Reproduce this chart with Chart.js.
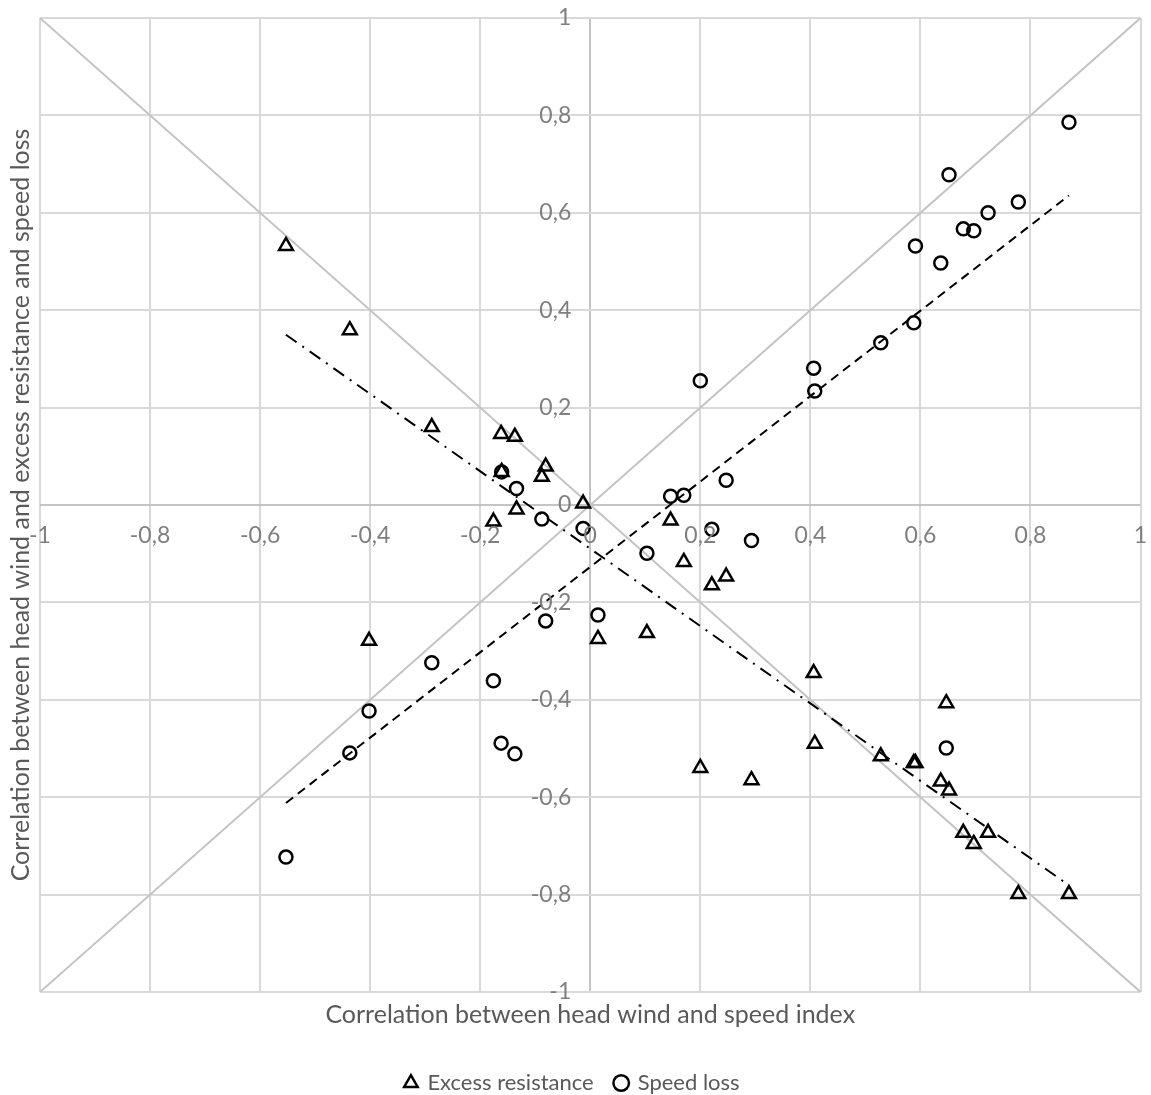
<!DOCTYPE html>
<html>
<head>
<meta charset="utf-8">
<script src="https://cdn.jsdelivr.net/npm/chart.js@4.4.0/dist/chart.umd.min.js"></script>
<style>
  html, body { margin: 0; padding: 0; background: #fff; }
  #wrap { width: 1151px; height: 1095px; }
</style>
</head>
<body>
<div id="wrap"><canvas id="chart"></canvas></div>
<script>
// ============================
// Data
// ============================
const headWindSpeedIndex = [
  -0.553, -0.437, -0.402, -0.288, -0.176, -0.162, -0.161, -0.137, -0.134, -0.088, -0.081,
  -0.013, 0.014, 0.103, 0.146, 0.170, 0.200, 0.221, 0.247, 0.293, 0.406, 0.408,
  0.528, 0.588, 0.591, 0.637, 0.647, 0.652, 0.678, 0.697, 0.723, 0.778, 0.870,
];
const excessResistance = [
  0.532, 0.359, -0.279, 0.160, -0.034, 0.146, 0.068, 0.140, -0.009, 0.058, 0.079,
  0.003, -0.275, -0.263, -0.032, -0.117, -0.540, -0.165, -0.147, -0.565, -0.345, -0.490,
  -0.516, -0.530, -0.530, -0.568, -0.407, -0.586, -0.673, -0.696, -0.673, -0.799, -0.799,
];
const speedLoss = [
  -0.723, -0.509, -0.423, -0.324, -0.361, -0.489, 0.068, -0.511, 0.034, -0.029, -0.238,
  -0.048, -0.226, -0.099, 0.018, 0.020, 0.255, -0.050, 0.051, -0.073, 0.281, 0.234,
  0.333, 0.374, 0.532, 0.497, -0.499, 0.678, 0.567, 0.563, 0.600, 0.622, 0.786,
];
const axisTicks = [-1, -0.8, -0.6, -0.4, -0.2, 0, 0.2, 0.4, 0.6, 0.8, 1];

const FONT = "Lato, 'Open Sans', sans-serif";

// ============================
// Helpers
// ============================
function toPoints(xs, ys) {
  return xs.map((x, i) => ({ x, y: ys[i] }));
}

// linear trendline (least squares), from min x to max x
function trendline(xs, ys) {
  const n = xs.length;
  const mx = xs.reduce((a, b) => a + b, 0) / n;
  const my = ys.reduce((a, b) => a + b, 0) / n;
  let sxy = 0;
  let sxx = 0;
  for (let i = 0; i < n; i += 1) {
    sxy += (xs[i] - mx) * (ys[i] - my);
    sxx += (xs[i] - mx) * (xs[i] - mx);
  }
  const slope = sxy / sxx;
  const intercept = my - slope * mx;
  const x0 = Math.min(...xs);
  const x1 = Math.max(...xs);
  return [
    { x: x0, y: intercept + slope * x0 },
    { x: x1, y: intercept + slope * x1 },
  ];
}

function fmt(v) {
  const r = Math.round(v * 10) / 10;
  return String(r).replace(".", ",");
}

// tick labels sit next to the axes that cross at 0
const crossLabels = {
  id: "crossLabels",
  afterDatasetsDraw(chart) {
    const { ctx, scales } = chart;
    const x0 = scales.x.getPixelForValue(0);
    const y0 = scales.y.getPixelForValue(0);
    ctx.save();
    ctx.font = "23px " + FONT;
    ctx.fillStyle = "#7f7f7f";
    ctx.textBaseline = "middle";
    ctx.textAlign = "center";
    axisTicks.forEach((v) => {
      ctx.fillText(fmt(v), scales.x.getPixelForValue(v), y0 + 31);
    });
    ctx.textAlign = "right";
    axisTicks.forEach((v) => {
      ctx.fillText(fmt(v), x0 - 19, scales.y.getPixelForValue(v));
    });
    ctx.restore();
  },
};

const gridColor = (c) => (c.tick && c.tick.value === 0 ? "#c4c4c4" : "#d9d9d9");

const ctx = document.getElementById("chart").getContext("2d");

new Chart(ctx, {
  type: "scatter",
  data: {
    datasets: [
      {
        label: "Excess resistance",
        data: toPoints(headWindSpeedIndex, excessResistance),
        pointStyle: "triangle",
        pointRadius: 8,
        borderWidth: 2.5,
        borderColor: "#000000",
        backgroundColor: "rgba(0,0,0,0)",
      },
      {
        label: "Speed loss",
        data: toPoints(headWindSpeedIndex, speedLoss),
        pointStyle: "circle",
        pointRadius: 6.5,
        borderWidth: 2.5,
        borderColor: "#000000",
        backgroundColor: "rgba(0,0,0,0)",
      },
      {
        label: "trend ER",
        data: trendline(headWindSpeedIndex, excessResistance),
        showLine: true,
        pointRadius: 0,
        borderWidth: 2,
        borderColor: "#000000",
        borderDash: [13, 7, 2, 7],
      },
      {
        label: "trend SL",
        data: trendline(headWindSpeedIndex, speedLoss),
        showLine: true,
        pointRadius: 0,
        borderWidth: 2,
        borderColor: "#000000",
        borderDash: [9, 6],
      },
      {
        label: "diag1",
        data: [{ x: -1, y: 1 }, { x: 1, y: -1 }],
        showLine: true,
        pointRadius: 0,
        borderWidth: 2,
        borderColor: "#c4c4c4",
      },
      {
        label: "diag2",
        data: [{ x: -1, y: -1 }, { x: 1, y: 1 }],
        showLine: true,
        pointRadius: 0,
        borderWidth: 2,
        borderColor: "#c4c4c4",
      },
    ],
  },
  options: {
    responsive: true,
    maintainAspectRatio: false,
    animation: false,
    layout: { padding: { top: 18, right: 8, left: 2, bottom: 0 } },
    scales: {
      x: {
        type: "linear",
        position: "bottom",
        min: -1,
        max: 1,
        afterBuildTicks: (s) => { s.ticks = axisTicks.map((value) => ({ value })); },
        ticks: { display: false },
        grid: { color: gridColor, lineWidth: 2, drawTicks: false },
        border: { display: false },
        title: {
          display: true,
          text: "Correlation between head wind and speed index",
          color: "#595959",
          font: { family: FONT, size: 25 },
          padding: { top: 8, bottom: 20 },
        },
      },
      y: {
        type: "linear",
        position: "left",
        min: -1,
        max: 1,
        afterBuildTicks: (s) => { s.ticks = axisTicks.map((value) => ({ value })); },
        ticks: { display: false },
        grid: { color: gridColor, lineWidth: 2, drawTicks: false },
        border: { display: false },
        title: {
          display: true,
          text: "Correlation between head wind and excess resistance and speed loss",
          color: "#595959",
          font: { family: FONT, size: 25 },
          padding: { top: 4, bottom: 4 },
        },
      },
    },
    plugins: {
      legend: {
        position: "bottom",
        maxHeight: 45,
        labels: {
          usePointStyle: true,
          boxWidth: 11,
          boxHeight: 11,
          color: "#595959",
          font: { family: FONT, size: 22 },
          padding: 22,
          filter: (item) => item.datasetIndex < 2,
        },
      },
      tooltip: { enabled: false },
    },
  },
  plugins: [crossLabels],
});
</script>
</body>
</html>
